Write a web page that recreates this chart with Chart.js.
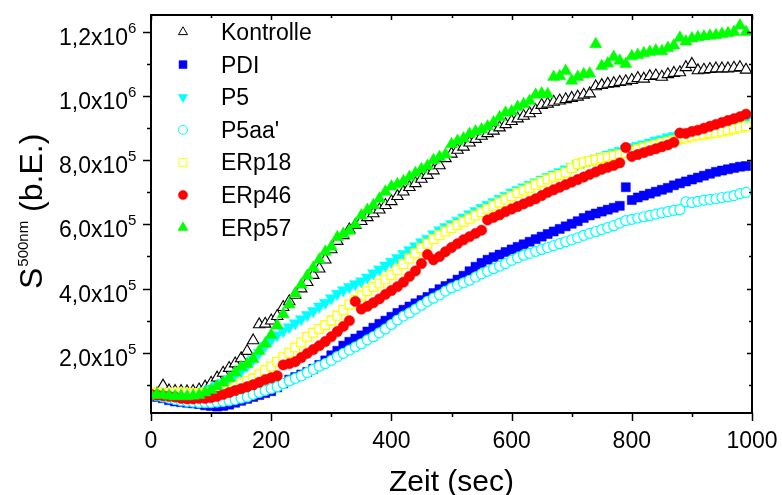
<!DOCTYPE html>
<html>
<head>
<meta charset="utf-8">
<script src="https://cdn.jsdelivr.net/npm/chart.js@4.4.0/dist/chart.umd.min.js"></script>
<style>
  html, body { margin: 0; padding: 0; background: #fff; }
  #wrap { width: 782px; height: 495px; }
</style>
</head>
<body>
<div id="wrap"><canvas id="chart" width="782" height="495"></canvas></div>
<script>
// Zeit (sec)
const times = [
    0, 10, 20, 30, 40, 50, 60, 70, 80, 90,
    100, 110, 120, 130, 140, 150, 160, 170, 180, 190,
    200, 210, 220, 230, 240, 250, 260, 270, 280, 290,
    300, 310, 320, 330, 340, 350, 360, 370, 380, 390,
    400, 410, 420, 430, 440, 450, 460, 470, 480, 490,
    500, 510, 520, 530, 540, 550, 560, 570, 580, 590,
    600, 610, 620, 630, 640, 650, 660, 670, 680, 690,
    700, 710, 720, 730, 740, 750, 760, 770, 780, 790,
    800, 810, 820, 830, 840, 850, 860, 870, 880, 890,
    900, 910, 920, 930, 940, 950, 960, 970, 980, 990
];

// signal values in thousands (x10^3 b.E.)
const kontrolle = [
    70, 72, 97, 82, 80, 80, 79, 80, 85, 94,
    106, 122, 137, 152, 166, 182, 205, 238, 288, 290,
    300, 314, 342, 360, 380, 400, 420, 442, 462, 490,
    522, 548, 566, 584, 598, 610, 622, 634, 646, 660,
    672, 688, 702, 716, 728, 742, 754, 768, 784, 806,
    820, 832, 842, 855, 866, 876, 884, 892, 902, 912,
    922, 930, 938, 946, 956, 972, 976, 982, 986, 990,
    994, 998, 1004, 1008, 1030, 1034, 1038, 1040, 1044, 1046,
    1050, 1056, 1054, 1062, 1064, 1060, 1068, 1072, 1074, 1090,
    1100, 1080, 1082, 1084, 1086, 1086, 1086, 1088, 1090, 1082
];
const pdi = [
    66, 62, 58, 52, 48, 46, 44, 42, 40, 36,
    34, 32, 34, 38, 44, 50, 56, 62, 68, 74,
    80, 92, 104, 116, 124, 132, 140, 150, 162, 176,
    192, 206, 222, 234, 244, 254, 266, 278, 290, 300,
    312, 324, 334, 344, 354, 364, 374, 386, 398, 408,
    416, 428, 440, 454, 468, 480, 490, 498, 506, 514,
    522, 530, 538, 546, 554, 562, 570, 578, 586, 594,
    602, 610, 620, 628, 634, 640, 646, 652, 658, 716,
    676, 684, 690, 696, 702, 708, 714, 722, 728, 734,
    740, 746, 752, 758, 764, 768, 772, 776, 780, 782
];
const p5 = [
    72, 72, 70, 70, 70, 68, 68, 70, 74, 80,
    88, 97, 106, 117, 128, 142, 160, 180, 200, 222,
    240, 255, 268, 280, 292, 305, 318, 330, 344, 356,
    370, 384, 395, 405, 414, 423, 435, 448, 460, 472,
    484, 496, 508, 520, 532, 545, 556, 570, 582, 592,
    602, 612, 622, 632, 642, 652, 662, 670, 680, 690,
    700, 708, 716, 724, 732, 740, 748, 756, 764, 772,
    780, 788, 794, 800, 806, 812, 818, 824, 830, 836,
    842, 846, 850, 856, 862, 866, 872, 876, 880, 884,
    888, 892, 896, 900, 904, 908, 912, 916, 920, 926
];
const p5aa = [
    68, 66, 62, 58, 54, 50, 48, 46, 44, 44,
    44, 46, 48, 50, 54, 58, 62, 70, 76, 82,
    88, 94, 104, 112, 120, 128, 138, 148, 158, 166,
    176, 188, 198, 208, 218, 228, 240, 250, 262, 274,
    288, 302, 314, 324, 336, 348, 360, 370, 380, 392,
    402, 410, 418, 426, 436, 446, 454, 462, 470, 478,
    488, 496, 504, 510, 516, 522, 528, 534, 540, 546,
    552, 558, 566, 572, 578, 584, 590, 596, 604, 612,
    616, 620, 624, 628, 632, 636, 640, 644, 646, 670,
    668, 672, 676, 678, 680, 684, 686, 690, 696, 700
];
const erp18 = [
    75, 76, 74, 75, 76, 76, 75, 74, 74, 75,
    76, 78, 82, 88, 96, 104, 112, 120, 132, 145,
    158, 172, 186, 200, 216, 232, 250, 262, 274, 286,
    300, 315, 333, 350, 365, 378, 392, 405, 416, 428,
    442, 458, 476, 494, 510, 526, 540, 554, 566, 578,
    588, 598, 608, 618, 628, 638, 648, 658, 668, 678,
    688, 698, 706, 714, 724, 732, 740, 748, 754, 762,
    776, 788, 794, 798, 802, 806, 810, 814, 818, 822,
    828, 834, 840, 844, 848, 854, 858, 862, 866, 870,
    874, 878, 880, 884, 886, 890, 894, 898, 902, 906
];
const erp46 = [
    70, 68, 66, 64, 62, 58, 56, 56, 58, 58,
    60, 64, 70, 76, 82, 88, 94, 100, 108, 116,
    122, 128, 162, 166, 172, 185, 198, 210, 222, 235,
    250, 266, 282, 300, 360, 336, 345, 356, 368, 382,
    394, 406, 420, 438, 455, 478, 506, 490, 500, 515,
    528, 540, 552, 562, 572, 582, 614, 622, 630, 640,
    648, 656, 664, 672, 680, 690, 700, 708, 716, 724,
    732, 740, 748, 756, 764, 772, 778, 784, 792, 840,
    812, 818, 824, 830, 836, 842, 848, 856, 885, 884,
    890, 894, 900, 906, 912, 918, 924, 930, 936, 944
];
const erp57 = [
    68, 70, 68, 66, 64, 66, 64, 66, 68, 76,
    84, 95, 106, 120, 138, 155, 165, 180, 205, 228,
    255, 285, 320, 350, 385, 412, 440, 465, 490, 515,
    530, 560, 570, 580, 600, 628, 645, 660, 680, 702,
    718, 725, 735, 748, 760, 772, 782, 800, 810, 818,
    850, 860, 868, 882, 890, 896, 905, 918, 934, 948,
    952, 966, 975, 985, 1004, 1008, 1006, 1060, 1062, 1078,
    1048, 1060, 1068, 1070, 1162, 1094, 1102, 1122, 1110, 1100,
    1124, 1128, 1134, 1138, 1142, 1140, 1150, 1158, 1182, 1170,
    1180, 1184, 1186, 1188, 1190, 1194, 1196, 1200, 1220, 1200
];

const seriesNames = ['Kontrolle', 'PDI', 'P5', "P5aa'", 'ERp18', 'ERp46', 'ERp57'];
const seriesValues = [kontrolle, pdi, p5, p5aa, erp18, erp46, erp57];

const xTickValues = [0, 200, 400, 600, 800, 1000];
const xMinorValues = [100, 300, 500, 700, 900];
const yTickValues = [200000, 400000, 600000, 800000, 1000000, 1200000];
const yTickMantissa = ['2,0', '4,0', '6,0', '8,0', '1,0', '1,2'];
const yTickExponent = ['5', '5', '5', '5', '6', '6'];
const yMinorValues = [100000, 300000, 500000, 700000, 900000, 1100000];

// marker styles
const styles = [
    { point: 'triangle', rot: 0, r: 6.6, fill: '#ffffff', stroke: '#000000', bw: 1.1, lr: 5.2 },
    { point: 'rect', rot: 0, r: 6.4, fill: '#0000ff', stroke: '#0000ff', bw: 0.5, lr: 5.6 },
    { point: 'triangle', rot: 180, r: 6.8, fill: '#00ffff', stroke: '#00ffff', bw: 0.5, lr: 5.4 },
    { point: 'circle', rot: 0, r: 5, fill: '#ffffff', stroke: '#00ffff', bw: 1.2, lr: 4.5 },
    { point: 'rect', rot: 0, r: 6.2, fill: '#ffffff', stroke: '#ffff00', bw: 1.3, lr: 5.6 },
    { point: 'circle', rot: 0, r: 5.2, fill: '#ff0000', stroke: '#ff0000', bw: 0.5, lr: 4.6 },
    { point: 'triangle', rot: 0, r: 7, fill: '#00ff00', stroke: '#00ff00', bw: 0.5, lr: 5.8 }
];

const FONT = "'Liberation Sans', Arial, sans-serif";

const datasets = seriesNames.map((name, i) => ({
    label: name,
    data: times.map((t, j) => ({ x: t, y: seriesValues[i][j] * 1000 })),
    showLine: false,
    pointStyle: styles[i].point,
    pointRotation: styles[i].rot,
    pointRadius: styles[i].r,
    pointBackgroundColor: styles[i].fill,
    pointBorderColor: styles[i].stroke,
    pointBorderWidth: styles[i].bw,
    order: seriesNames.length - 1 - i
}));

// axes, ticks, labels and legend drawn by hand (origin style)
const framePlugin = {
    id: 'frame',
    afterDraw(chart) {
        const ctx = chart.ctx;
        const a = chart.chartArea;
        const xs = chart.scales.x, ys = chart.scales.y;
        ctx.save();
        ctx.strokeStyle = '#000';
        ctx.fillStyle = '#000';

        // ticks
        ctx.lineWidth = 1.5;
        ctx.beginPath();
        xTickValues.forEach(v => {
            const x = Math.round(xs.getPixelForValue(v)) + 0.5;
            ctx.moveTo(x, a.bottom); ctx.lineTo(x, a.bottom + 8);
            ctx.moveTo(x, a.top); ctx.lineTo(x, a.top + 5);
        });
        xMinorValues.forEach(v => {
            const x = Math.round(xs.getPixelForValue(v)) + 0.5;
            ctx.moveTo(x, a.bottom); ctx.lineTo(x, a.bottom + 4);
            ctx.moveTo(x, a.top); ctx.lineTo(x, a.top + 3);
        });
        yTickValues.forEach(v => {
            const y = Math.round(ys.getPixelForValue(v)) + 0.5;
            ctx.moveTo(a.left, y); ctx.lineTo(a.left - 8, y);
            ctx.moveTo(a.right, y); ctx.lineTo(a.right - 5, y);
        });
        yMinorValues.forEach(v => {
            const y = Math.round(ys.getPixelForValue(v)) + 0.5;
            ctx.moveTo(a.left, y); ctx.lineTo(a.left - 4, y);
            ctx.moveTo(a.right, y); ctx.lineTo(a.right - 3, y);
        });
        ctx.stroke();

        // frame
        ctx.lineWidth = 2;
        ctx.strokeRect(a.left, a.top, a.right - a.left, a.bottom - a.top);

        // x tick labels
        ctx.font = '23px ' + FONT;
        ctx.textAlign = 'center';
        ctx.textBaseline = 'alphabetic';
        xTickValues.forEach(v => {
            ctx.fillText(String(v), xs.getPixelForValue(v), a.bottom + 35);
        });

        // y tick labels with superscript exponent
        yTickValues.forEach((v, i) => {
            const y = ys.getPixelForValue(v);
            ctx.font = '23px ' + FONT;
            ctx.textAlign = 'right';
            ctx.fillText(yTickMantissa[i] + 'x10', 128, y + 13);
            ctx.font = '15px ' + FONT;
            ctx.textAlign = 'left';
            ctx.fillText(yTickExponent[i], 128, y + 1);
        });

        // x axis title
        ctx.font = '30px ' + FONT;
        ctx.textAlign = 'center';
        ctx.fillText('Zeit (sec)', (a.left + a.right) / 2, 491);

        // y axis title: S^500nm (b.E.)
        ctx.save();
        ctx.translate(42, 289);
        ctx.rotate(-Math.PI / 2);
        ctx.textAlign = 'left';
        ctx.font = '32px ' + FONT;
        ctx.fillText('S', 0, 0);
        let off = ctx.measureText('S').width + 1;
        ctx.font = '15px ' + FONT;
        ctx.fillText('500nm', off, -14);
        off += ctx.measureText('500nm').width;
        ctx.font = '32px ' + FONT;
        ctx.fillText(' (b.E.)', off, 0);
        ctx.restore();

        // legend
        seriesNames.forEach((name, i) => {
            const cy = 32 + i * 32.6;
            const s = styles[i];
            ctx.fillStyle = s.fill;
            ctx.strokeStyle = s.stroke;
            ctx.lineWidth = s.bw < 1 ? 0.5 : 1;
            Chart.helpers.drawPoint(ctx, {
                pointStyle: s.point, rotation: s.rot, radius: s.lr, borderWidth: ctx.lineWidth
            }, 183, cy);
            ctx.fillStyle = '#000';
            ctx.font = '23px ' + FONT;
            ctx.textAlign = 'left';
            ctx.fillText(name, 221, cy + 8);
        });

        ctx.restore();
    }
};

new Chart(document.getElementById('chart'), {
    type: 'scatter',
    data: { datasets: datasets },
    options: {
        responsive: false,
        animation: false,
        layout: { padding: { left: 151, right: 30, top: 15, bottom: 82 } },
        plugins: {
            legend: { display: false },
            tooltip: { enabled: false }
        },
        scales: {
            x: { type: 'linear', min: 0, max: 1000, display: false },
            y: { type: 'linear', min: 12000, max: 1253000, display: false }
        }
    },
    plugins: [framePlugin]
});
</script>
</body>
</html>
